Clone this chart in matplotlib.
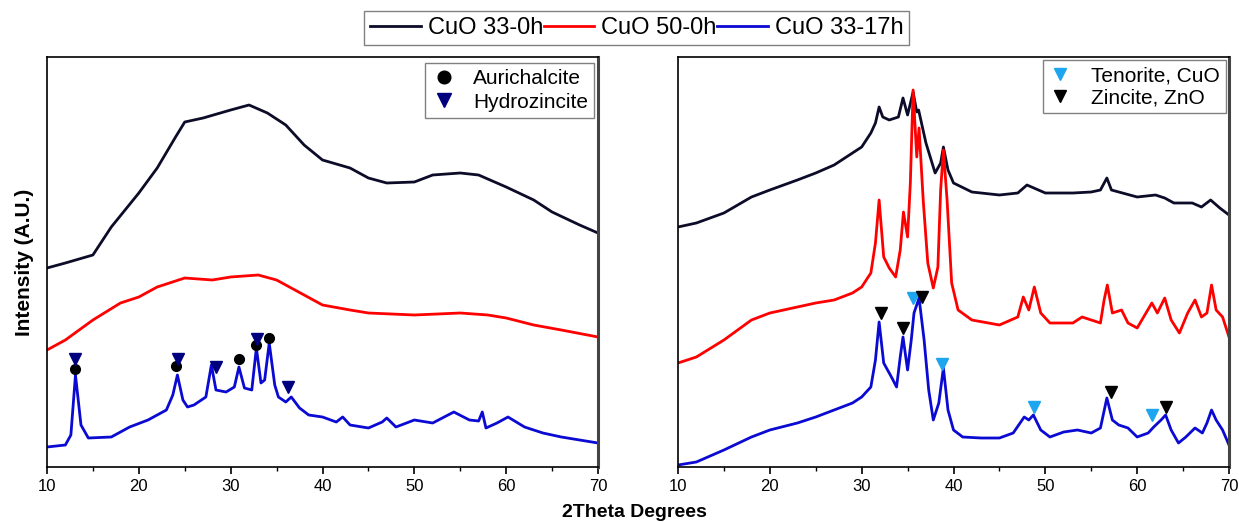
import matplotlib.pyplot as plt
from matplotlib.lines import Line2D

plt.rcParams['font.family'] = ['Liberation Sans', 'DejaVu Sans']

# ---- left panel: CuO 33-0h / 50-0h / 33-17h (precursors) ----
left_x_33_0 = [10, 12, 15, 17, 20, 22, 24, 25, 27, 30, 32, 34, 36, 38, 40, 43, 45, 47, 50, 52, 55, 57, 60, 63, 65, 68, 70]
left_y_33_0 = [199, 204, 212, 240, 274, 299, 330, 345, 349, 357, 362, 354, 342, 322, 307, 299, 289, 284, 285, 292, 294, 292, 280, 267, 255, 242, 234]

left_x_50_0 = [10, 12, 15, 18, 20, 22, 25, 28, 30, 33, 35, 37, 40, 43, 45, 50, 55, 58, 60, 63, 66, 70]
left_y_50_0 = [117, 127, 147, 164, 170, 180, 189, 187, 190, 192, 187, 177, 162, 157, 154, 152, 154, 152, 149, 142, 137, 130]

left_x_33_17 = [10, 12, 12.6, 13.1, 13.7, 14.5, 17, 19, 21, 23, 23.7, 24.2, 24.8, 25.3, 26, 27.3, 27.9, 28.4,
                29.5, 30.4, 30.9, 31.5, 32.3, 32.8, 33.3, 33.7, 34.2, 34.8, 35.2, 36.0, 36.6, 37.5, 38.5, 40,
                41.5, 42.2, 43, 45, 46.5, 47, 48, 50, 52, 54.3, 56, 57.0, 57.4, 57.8, 59, 60.2, 62, 64, 66, 68, 70]
left_y_33_17 = [20, 22, 32, 92, 42, 29, 30, 40, 47, 57, 72, 92, 67, 60, 62, 70, 102, 77,
                75, 80, 100, 79, 77, 119, 84, 87, 124, 82, 70, 65, 70, 59, 52, 50,
                45, 50, 42, 39, 45, 49, 40, 47, 44, 55, 47, 46, 55, 39, 44, 50, 40, 34, 30, 27, 24]

auri_x = [13.05, 24.06, 30.9, 32.8, 34.13]
auri_y = [98, 101, 108, 122, 129]
hydro_x = [13.05, 24.28, 28.37, 32.88, 36.19]
hydro_y = [108, 108, 100, 128, 80]

# ---- right panel: calcined samples ----
right_x_33_0 = [10, 12, 15, 18, 20, 23, 25, 27, 29, 30, 31, 31.5, 31.9, 32.3, 33, 34, 34.5, 35, 35.6, 36.0, 36.2,
                37, 38, 38.6, 38.9, 39.4, 40, 42, 45, 47, 48, 50, 53, 55, 56, 56.7, 57.2, 58, 60, 62, 63,
                64, 66, 67, 68, 69, 70]
right_y_33_0 = [240, 244, 254, 270, 277, 287, 294, 302, 314, 320, 334, 344, 360, 350, 347, 350, 369, 352, 375, 355, 357,
                324, 294, 304, 320, 297, 284, 275, 272, 274, 282, 274, 274, 275, 277, 289, 277, 275, 270, 272, 269,
                264, 264, 260, 267, 259, 252]

right_x_50_0 = [10, 12, 15, 18, 20, 23, 25, 27, 29, 30, 31, 31.5, 31.9, 32.4, 33, 33.7, 34.2, 34.55, 35.0, 35.3,
                35.6, 36.0, 36.25, 36.7, 37.2, 37.8, 38.3, 38.6, 38.9, 39.3, 39.8, 40.5, 42, 45, 47, 47.6, 48.2,
                48.8, 49.5, 50.5, 53, 54, 56, 56.4, 56.75, 57.3, 58.3, 59, 60, 61.6, 62.2, 63.0, 63.7, 64.6, 65.5,
                66.3, 67, 67.6, 68.1, 68.6, 69.3, 70]
right_y_50_0 = [104, 110, 127, 147, 154, 160, 164, 167, 174, 180, 194, 224, 267, 210, 199, 190, 217, 255, 230, 284,
                377, 310, 339, 267, 204, 179, 200, 277, 317, 267, 184, 157, 147, 142, 150, 170, 157,
                180, 154, 144, 144, 150, 144, 167, 182, 154, 157, 144, 139, 164, 154, 169, 147, 134, 154,
                167, 150, 154, 182, 157, 150, 130]

right_x_33_17 = [10, 12, 15, 18, 20, 23, 25, 27, 29, 30, 31, 31.5, 31.9, 32.4, 33.3, 33.8, 34.2, 34.5, 35.0, 35.4,
                 35.7, 36.25, 36.8, 37.3, 37.8, 38.4, 38.9, 39.4, 40, 41, 43, 45, 46.5, 47.7, 48.2, 48.7, 49.5,
                 50.5, 52, 53.5, 55, 56, 56.7, 57.3, 58, 59, 60, 61.2, 61.8, 62.6, 63.1, 63.7, 64.5, 65.3, 66.3,
                 67.1, 67.6, 68.1, 68.6, 69.3, 70]
right_y_33_17 = [2, 5, 17, 30, 37, 44, 50, 57, 64, 70, 80, 107, 145, 104, 89, 80, 110, 130, 97, 127,
                 154, 169, 127, 77, 47, 64, 99, 57, 37, 30, 29, 29, 34, 50, 47, 52, 37,
                 30, 35, 37, 34, 39, 69, 47, 42, 39, 30, 34, 40, 47, 52, 37, 24, 30, 39,
                 34, 44, 57, 47, 37, 22]

teno_x = [35.55, 38.8, 48.75, 61.6]
teno_y = [169, 103, 60, 52]
zinc_x = [32.06, 34.47, 36.58, 57.2, 63.16]
zinc_y = [154, 139, 170, 75, 60]

c_black = '#0c0c28'
c_red = '#ff0000'
c_blue = '#0a0ad2'
c_navy = '#00007f'
c_teno = '#1ea5f0'

fig = plt.figure(figsize=(12.39, 5.22), dpi=100)
ax1 = fig.add_axes([47 / 1239, 55 / 522, 551 / 1239, 410 / 522])
ax2 = fig.add_axes([678 / 1239, 55 / 522, 551 / 1239, 410 / 522])

lw = 2.0
ax1.plot(left_x_33_0, left_y_33_0, color=c_black, lw=lw)
ax1.plot(left_x_50_0, left_y_50_0, color=c_red, lw=lw)
ax1.plot(left_x_33_17, left_y_33_17, color=c_blue, lw=lw)
ax1.plot(auri_x, auri_y, 'o', color='black', ms=7, ls='none', label='Aurichalcite')
ax1.plot(hydro_x, hydro_y, 'v', color=c_navy, ms=8, ls='none', label='Hydrozincite')

ax2.plot(right_x_33_0, right_y_33_0, color=c_black, lw=lw)
ax2.plot(right_x_50_0, right_y_50_0, color=c_red, lw=lw)
ax2.plot(right_x_33_17, right_y_33_17, color=c_blue, lw=lw)
ax2.plot(teno_x, teno_y, 'v', color=c_teno, ms=8, ls='none', label='Tenorite, CuO')
ax2.plot(zinc_x, zinc_y, 'v', color='black', ms=8, ls='none', label='Zincite, ZnO')

for ax in (ax1, ax2):
    ax.set_xlim(10, 70)
    ax.set_ylim(0, 410)
    ax.set_xticks(range(10, 71, 10))
    ax.set_xticks(range(15, 70, 10), minor=True)
    ax.set_yticks([])
    ax.tick_params(axis='x', which='major', direction='out', length=5, width=1.2, labelsize=12)
    ax.tick_params(axis='x', which='minor', direction='out', length=3, width=1)
    for s in ax.spines.values():
        s.set_linewidth(1.2)
        s.set_color('black')
    ax.spines['right'].set_linewidth(2.2)
    ax.spines['right'].set_color('#444444')

leg1 = ax1.legend(loc='upper right', bbox_to_anchor=(0.993, 0.985), fontsize=15, fancybox=False,
                  edgecolor='#808080', handletextpad=0.8, borderpad=0.3, labelspacing=0.2,
                  handlelength=1.2, framealpha=1, markerscale=1.3, borderaxespad=0)
leg2 = ax2.legend(loc='upper right', bbox_to_anchor=(0.995, 0.993), fontsize=15, fancybox=False,
                  edgecolor='#808080', handletextpad=1.0, borderpad=0.3, labelspacing=0.15,
                  handlelength=1.0, framealpha=1, borderaxespad=0)

ax1.set_ylabel('Intensity (A.U.)', fontsize=15, fontweight='bold', labelpad=9)
fig.text(0.512, 0.018, '2Theta Degrees', ha='center', va='center', fontsize=14, fontweight='bold')

handles = [Line2D([], [], color=c_black, lw=2),
           Line2D([], [], color=c_red, lw=2),
           Line2D([], [], color=c_blue, lw=2)]
fig.legend(handles, ['CuO 33-0h', 'CuO 50-0h', 'CuO 33-17h'], loc='center', bbox_to_anchor=(0.514, 0.946),
           ncol=3, fontsize=17, fancybox=False, edgecolor='#808080', columnspacing=0.0,
           handlelength=2.15, handletextpad=0.3, borderpad=0.25, framealpha=1)

fig.savefig('out.png', dpi=100)
